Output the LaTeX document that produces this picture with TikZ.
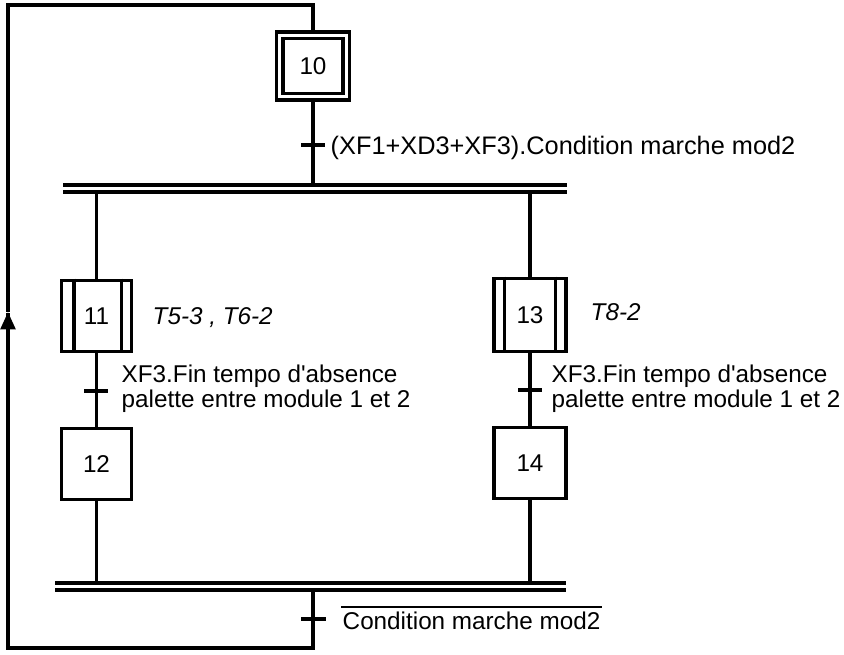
\documentclass[tikz,border=0pt]{standalone}
\usepackage{fontspec}
\setmainfont{Liberation Sans}[Ligatures=TeXOff]
\usetikzlibrary{arrows.meta}
\begin{document}
\begin{tikzpicture}[x=0.75pt,y=-0.75pt,line width=2.6pt,line join=miter,
  txt/.style={font=\fontsize{18.2}{22}\selectfont},
  stepbox/.style={draw,txt,inner sep=0pt,minimum width=52.5pt,minimum height=53.5pt},
  initstep/.style={stepbox,double,double distance=2.2pt,minimum width=50pt,minimum height=46pt},
  lbl/.style={txt,anchor=base west,inner sep=0pt},
  act/.style={lbl,font=\fontsize{18.2}{22}\selectfont\itshape},
  tick/.style={line width=2.6pt},
  bar/.style={line width=2.7pt}]
\useasboundingbox (0,0) rectangle (844,655);

% steps
\node[initstep] (s10) at (313,66) {10};
\node[stepbox] (s11) at (96.5,316) {11};
\node[stepbox] (s12) at (96.5,464) {12};
\node[stepbox,minimum width=54pt,minimum height=55pt] (s13) at (530,315) {13};
\node[stepbox,minimum width=54pt] (s14) at (530,463) {14};

% inner bars of steps 11 and 13
\draw ([xshift=10.5pt]s11.north west) -- ([xshift=10.5pt]s11.south west);
\draw ([xshift=-9pt]s11.north east) -- ([xshift=-9pt]s11.south east);
\draw ([xshift=9pt]s13.north west) -- ([xshift=9pt]s13.south west);
\draw ([xshift=-9pt]s13.north east) -- ([xshift=-9pt]s13.south east);

% coordinates
\coordinate (t1) at (313,145);
\coordinate (t11) at (96,391);
\coordinate (t13) at (530,390);
\coordinate (tb) at (313,619);
\coordinate (ba1) at (63,185);
\coordinate (ba2) at (567,185);
\coordinate (bb1) at (63,192);
\coordinate (bb2) at (567,192);
\coordinate (bc1) at (55,583);
\coordinate (bc2) at (566,583);
\coordinate (bd1) at (55,590);
\coordinate (bd2) at (566,590);
\coordinate (lb) at (313,648);
\coordinate (lbl) at (8,648);
\coordinate (la) at (8,312);
\coordinate (ltl) at (8,5);
\coordinate (ltr) at (313,5);

% double bars
\draw[bar] (ba1) -- (ba2);
\draw[bar] (bb1) -- (bb2);
\draw[bar] (bc1) -- (bc2);
\draw[bar] (bd1) -- (bd2);

% links
\draw (s10.south) -- (s10.south |- ba1);
\draw (s11.north |- bb1) -- (s11.north);
\draw (s11.south) -- (s12.north);
\draw (s12.south) -- (s12.south |- bc1);
\draw (s13.north |- bb1) -- (s13.north);
\draw (s13.south) -- (s14.north);
\draw (s14.south) -- (s14.south |- bc1);

% loop back
\draw (lb |- bd1) -- (lb) -- (lbl) -- ([yshift=-1pt]la);
\draw[-{Triangle[length=13pt,width=11pt]}] (lbl) -- (la);
\draw (la) -- (ltl) -- (ltr) -- (s10.north);

% transition ticks
\draw[tick] ([xshift=-9pt]t1) -- ([xshift=9pt]t1);
\draw[tick] ([xshift=-9pt]t11) -- ([xshift=9pt]t11);
\draw[tick] ([xshift=-9pt]t13) -- ([xshift=9pt]t13);
\draw[tick] ([xshift=-9pt]tb) -- ([xshift=10pt]tb);

% receptivities
\node[lbl,font=\fontsize{19}{22}\selectfont] (r1) at (329,155) {(XF1+XD3+XF3).Condition marche mod2};
\node[lbl] (r11a) at (120,383) {XF3.Fin tempo d'absence};
\node[lbl] (r11b) at (120,408) {palette entre module 1 et 2};
\node[lbl] (r13a) at (550,383) {XF3.Fin tempo d'absence};
\node[lbl] (r13b) at (550,408) {palette entre module 1 et 2};
\node[lbl] (rb) at (341,630) {Condition marche mod2};
\draw[line width=1.5pt] ([yshift=3pt]rb.north west) -- ([yshift=3pt]rb.north east);

% actions
\node[act] (a11) at (151,325) {T5-3 , T6-2};
\node[act] (a13) at (589,321) {T8-2};
\end{tikzpicture}
\end{document}
